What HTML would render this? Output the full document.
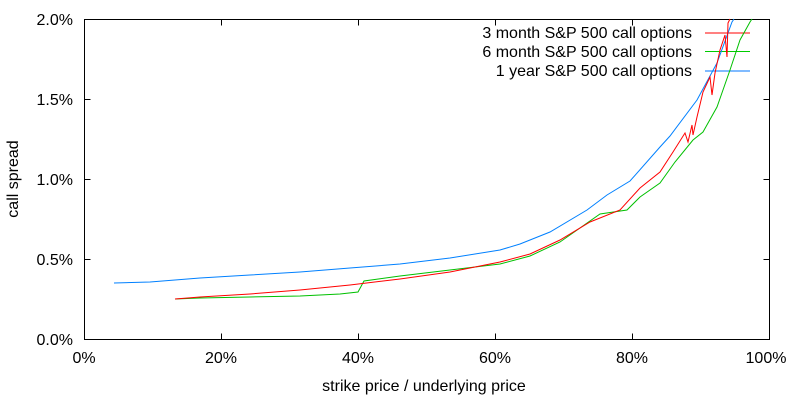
<!DOCTYPE html>
<html><head><style>body{margin:0;background:#fff}</style></head><body>
<svg width="800" height="400" xmlns="http://www.w3.org/2000/svg" font-family="Liberation Sans, sans-serif" font-size="16">
<rect width="800" height="400" fill="#fff"/>
<g stroke="#000" stroke-width="1" fill="none">
<rect x="84.5" y="19.5" width="685" height="320"/>
<path d="M84.5 259.5h6M84.5 179.5h6M84.5 99.5h6M769.5 259.5h-6M769.5 179.5h-6M769.5 99.5h-6M221.5 339.5v-6M358.5 339.5v-6M495.5 339.5v-6M632.5 339.5v-6M221.5 19.5v6M358.5 19.5v6M495.5 19.5v6M632.5 19.5v6"/>
</g>
<g text-anchor="end" fill="#000">
<text x="73" y="345">0.0%</text><text x="73" y="265">0.5%</text><text x="73" y="185">1.0%</text><text x="73" y="105">1.5%</text><text x="73" y="25">2.0%</text>
</g>
<g text-anchor="middle" fill="#000">
<text x="84" y="363">0%</text><text x="221" y="363">20%</text><text x="358" y="363">40%</text><text x="495" y="363">60%</text><text x="632" y="363">80%</text><text x="766" y="363">100%</text>
<text x="424" y="391">strike price / underlying price</text>
<text transform="translate(18,179) rotate(-90)">call spread</text>
</g>
<g text-anchor="end" fill="#000">
<text x="692" y="38">3 month S&amp;P 500 call options</text>
<text x="692" y="57">6 month S&amp;P 500 call options</text>
<text x="692" y="76">1 year S&amp;P 500 call options</text>
</g>
<path d="M705 33h45" stroke="#f00"/>
<path d="M705 51.5h45" stroke="#0c0"/>
<path d="M705 71h45" stroke="#07f"/>
<polyline fill="none" stroke="#0080ff" points="114,283 150,282 200,278 250,275 300,272 350,268 400,264 450,258 500,250 520,244 550,232 587,210 607,195 630,181 660,147 670,136 697,100 717,63 732,22 734,19"/>
<polyline fill="none" stroke="#00c000" points="175,299 200,298 250,297 300,296 340,294 358,292 364,281 400,276 450,270 500,264 530,256 560,242 600,214 627,210 640,197 660,183 675,162 693,140 703,132 717,107 730,70 740,40 750,22 752,19"/>
<polyline fill="none" stroke="#f00" points="175,299 200,297 250,294 300,290 350,285 400,279 450,272 500,262 530,254 560,240 590,222 620,210 640,188 660,172 673,152 685,133 688,142 692,125 693,135 697,117 703,92 710,77 712,95 715,73 720,50 725,35 727,57 728,23 730,19"/>
</svg>
</body></html>
